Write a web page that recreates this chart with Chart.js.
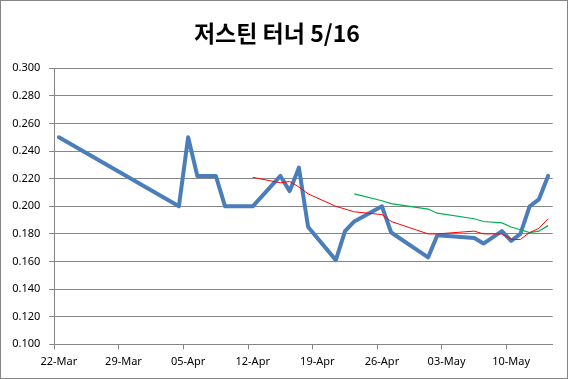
<!DOCTYPE html>
<html>
<head>
<meta charset="utf-8">
<script src="https://cdn.jsdelivr.net/npm/chart.js@4"></script>
<style>
    body { margin: 0; background: #fff; }
    #wrap { width: 566px; height: 377px; border: 1px solid #868686; background: #fff; }
</style>
</head>
<body>
<div id="wrap"><canvas id="chart" width="566" height="377"></canvas></div>
<script>
// --- Données ---
const chartTitle = "저스틴 터너 5/16";

// dates de match (mois-jour)
const gameDates = ["03-22", "04-04", "04-05", "04-06", "04-08", "04-09", "04-12", "04-15", "04-16", "04-17",
    "04-18", "04-21", "04-22", "04-23", "04-26", "04-27", "05-01", "05-02", "05-06", "05-07",
    "05-09", "05-10", "05-11", "05-12", "05-13", "05-14"];

// moyenne au bâton
const battingAvg = [0.250, 0.200, 0.250, 0.222, 0.222, 0.200, 0.200, 0.222, 0.211, 0.228,
    0.185, 0.161, 0.182, 0.189, 0.200, 0.181, 0.163, 0.179, 0.177, 0.173,
    0.182, 0.175, 0.180, 0.200, 0.205, 0.222];

// moyennes mobiles (rouge : à partir du 12-Apr, vert : à partir du 23-Apr)
const redDates = gameDates.slice(6);
const redAvg = [0.221, 0.217, 0.218, 0.214, 0.209, 0.200, 0.198, 0.196, 0.194, 0.189,
    0.180, 0.180, 0.182, 0.180, 0.180, 0.176, 0.176, 0.181, 0.184, 0.191];
const greenDates = gameDates.slice(13);
const greenAvg = [0.209, 0.204, 0.202, 0.198, 0.195, 0.191, 0.189, 0.188, 0.185, 0.183,
    0.181, 0.182, 0.186];

// axes
const xTickDates = ["03-22", "03-29", "04-05", "04-12", "04-19", "04-26", "05-03", "05-10"];
const xTickLabels = ["22-Mar", "29-Mar", "05-Apr", "12-Apr", "19-Apr", "26-Apr", "03-May", "10-May"];
const yTicks = [0.100, 0.120, 0.140, 0.160, 0.180, 0.200, 0.220, 0.240, 0.260, 0.280, 0.300];

// --- Outils ---
function dayOf(s) {
    const [m, d] = s.split("-").map(Number);
    return (Date.UTC(2015, m - 1, d) - Date.UTC(2015, 2, 22)) / 86400000;
}
const toPoints = (dates, vals) => vals.map((v, i) => ({ x: dayOf(dates[i]), y: v }));

const lastDay = dayOf(gameDates[gameDates.length - 1]);
const gridColor = "#868686";
const tickFont = { family: "'Noto Sans', sans-serif", size: 11 };

// --- Graphique ---
const ctx = document.getElementById("chart").getContext("2d");
new Chart(ctx, {
    type: "line",
    data: {
        datasets: [
            { data: toPoints(gameDates, battingAvg), borderColor: "#4a7ebb", borderWidth: 4, order: 3,
              borderJoinStyle: "round", borderCapStyle: "round" },
            { data: toPoints(redDates, redAvg), borderColor: "#ff0000", borderWidth: 1, order: 1 },
            { data: toPoints(greenDates, greenAvg), borderColor: "#00b050", borderWidth: 1.2, order: 2 }
        ]
    },
    options: {
        responsive: false,
        animation: false,
        layout: { padding: { left: 0, right: 14.3, top: 0, bottom: 0 } },
        elements: { point: { radius: 0 }, line: { tension: 0 } },
        plugins: {
            legend: { display: false },
            tooltip: { enabled: false },
            title: {
                display: true, text: chartTitle, color: "#000",
                font: { family: "'Noto Sans CJK KR', sans-serif", size: 23, weight: "bold" },
                padding: { top: 18.5, bottom: 21.2 }
            }
        },
        scales: {
            x: {
                type: "linear",
                min: -0.5,
                max: lastDay + 0.5,
                afterBuildTicks: s => { s.ticks = xTickDates.map(d => ({ value: dayOf(d) - 0.5 })); },
                afterFit: s => { s.height = 33.7; },
                grid: { drawOnChartArea: false, drawTicks: true, tickLength: 5, color: gridColor },
                border: { color: gridColor },
                ticks: {
                    callback: (v, i) => xTickLabels[i],
                    labelOffset: 4.6, padding: 6, maxRotation: 0, autoSkip: false,
                    color: "#000", font: tickFont
                }
            },
            y: {
                min: 0.1,
                max: 0.3,
                afterBuildTicks: s => { s.ticks = yTicks.map(v => ({ value: v })); },
                afterFit: s => { s.width = 53.3; },
                grid: { color: gridColor, tickLength: 5 },
                border: { color: gridColor },
                ticks: { callback: v => v.toFixed(3), padding: 9, color: "#000", font: tickFont }
            }
        }
    }
});
</script>
</body>
</html>
